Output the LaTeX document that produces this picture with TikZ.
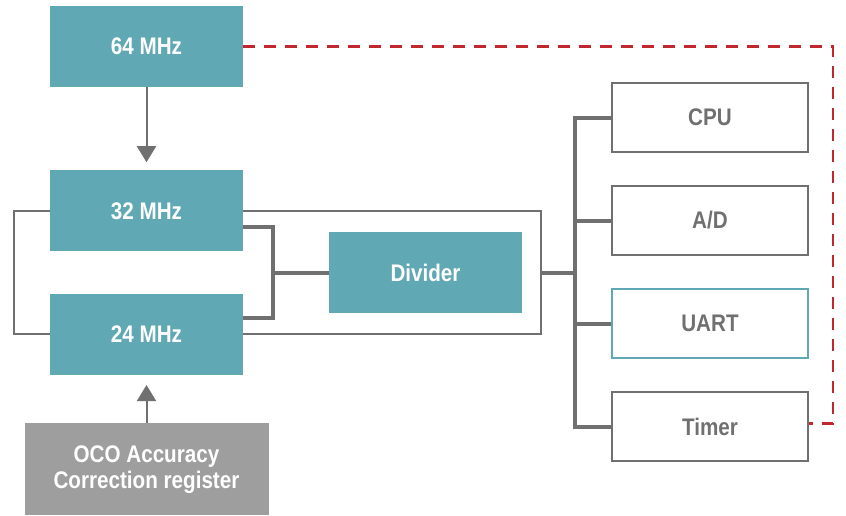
\documentclass[tikz,border=0pt]{standalone}
\usepackage{fontspec}
\setmainfont{Liberation Sans}[FakeStretch=0.86]
\usetikzlibrary{positioning,arrows.meta,backgrounds}
\definecolor{teal1}{HTML}{60A8B3}
\definecolor{grey1}{HTML}{9E9E9E}
\definecolor{line1}{HTML}{707070}
\definecolor{red1}{HTML}{C1272D}

\begin{document}
\begin{tikzpicture}[x=1pt, y=-1pt, font=\fontsize{24pt}{26pt}\selectfont\bfseries,
	b/.style={rectangle, fill=teal1, text=white, minimum width=193pt, minimum height=81pt, inner sep=0pt},
	g/.style={rectangle, fill=grey1, text=white, minimum width=244pt, minimum height=92pt, align=center, inner sep=0pt},
	w/.style={rectangle, draw=line1, line width=2.5pt, text=line1, minimum width=196pt, minimum height=69pt, inner sep=0pt},
	l/.style={draw=line1, line width=2pt},
	s/.style={draw=line1, line width=4pt},
	a/.style={line1, line width=2pt, -{Triangle[width=19pt,length=16pt]}},
	r/.style={red1, line width=2.5pt, dash pattern=on 12pt off 9pt}]
	\useasboundingbox (0,0) rectangle (846,515);

	\node[b] (f64) at (146.5,46.5) {64 MHz};
	\node[b, below=83pt of f64] (f32) {32 MHz};
	\node[b, below=42pt of f32] (f24) {24 MHz};
	\node[g, below=48pt of f24] (oco) {OCO Accuracy\\Correction register};
	\node[b] (div) at (425.5,272.5) {Divider};

	\node[w] (cpu) at (710,117.5) {CPU};
	\node[w, below=31.5pt of cpu] (ad) {A/D};
	\node[w, draw=teal1, below=31.5pt of ad] (uart) {UART};
	\node[w, below=31.5pt of uart] (timer) {Timer};

	\coordinate (join) at (273,272.5);
	\coordinate (out) at (541,272.5);
	\coordinate (tap) at (575,272.5);

	\begin{scope}[on background layer]
		\draw[l] (f32.west) -- ++(-36pt,0) |- (f24.west);
		\draw[l] (f32.east) -| (out) |- (f24.east);
	\end{scope}

	\draw[s] ([yshift=-16pt]f32.east) -| (join) |- ([yshift=16pt]f24.east);
	\draw[s] (join) -- (div.west);
	\draw[s] (out) -- (tap);
	\draw[s] (cpu.west) -| (tap |- timer) -- (timer.west);
	\draw[s] (tap |- ad) -- (ad.west);
	\draw[s] (tap |- uart) -- (uart.west);

	\draw[a, shorten >=8pt] (f64) -- (f32);
	\draw[a, shorten >=10pt] (oco) -- (f24);

	\draw[r] (f64.east) -- ++(590pt,0) |- ([yshift=3pt]timer.east);
\end{tikzpicture}
\end{document}
